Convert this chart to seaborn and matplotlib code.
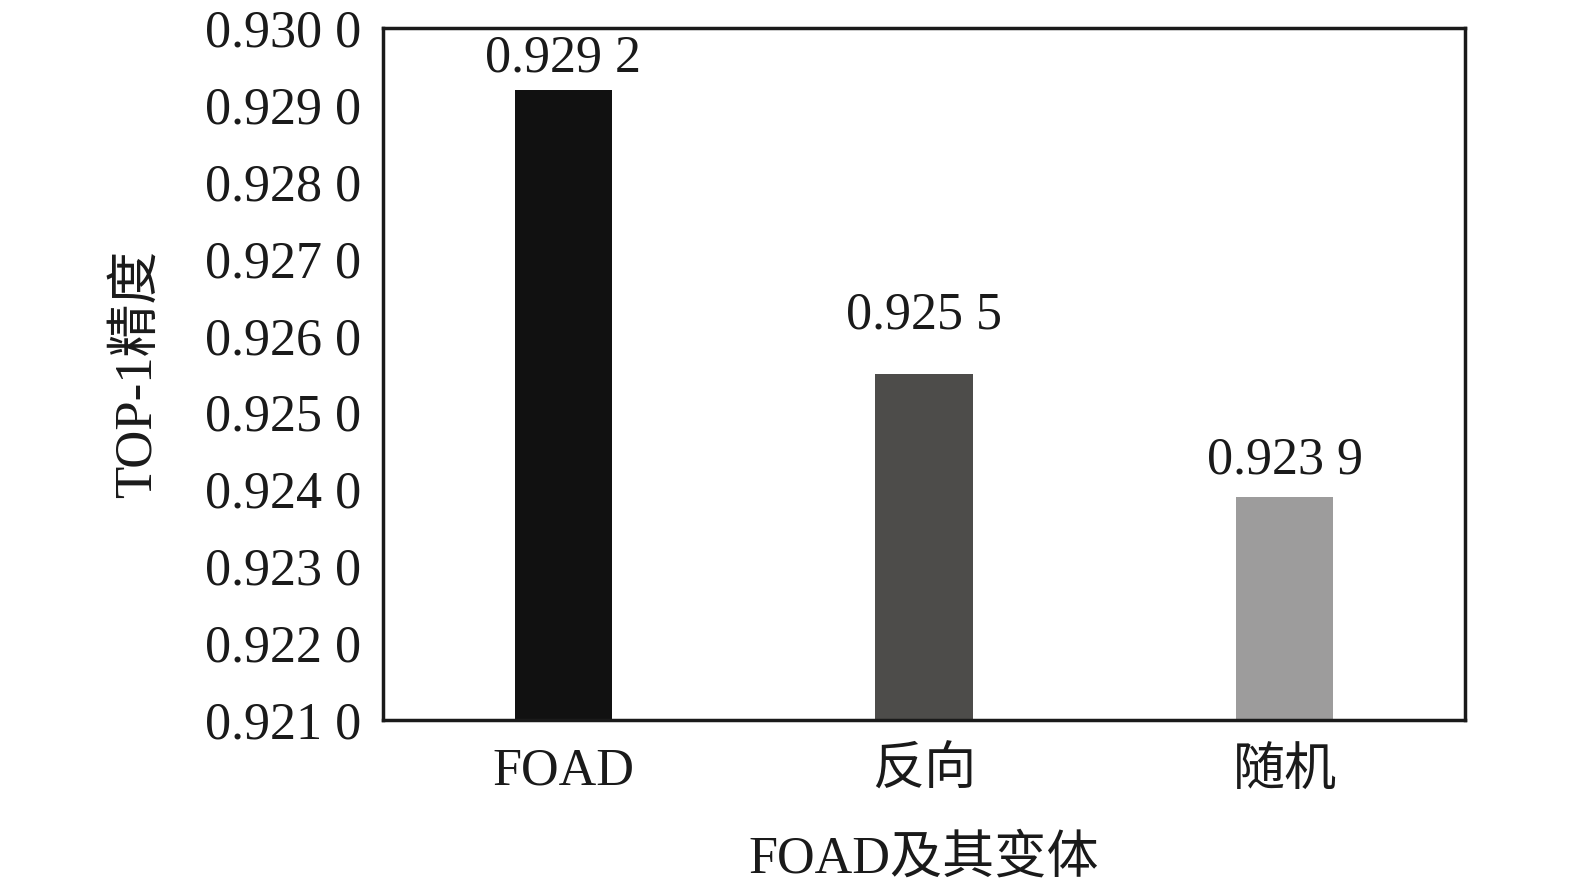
import matplotlib
matplotlib.use("Agg")
import matplotlib.pyplot as plt
import seaborn as sns
import pandas as pd
from matplotlib.ticker import FuncFormatter, MultipleLocator

categories = ["FOAD", "反向", "随机"]
values = [0.9292, 0.9255, 0.9239]
labels = ["0.929 2", "0.925 5", "0.923 9"]
colors = ["#111111", "#4d4c4a", "#9d9c9c"]
# label offsets above bar tops (points) - styling only
label_offsets = [22, 42, 26]

sns.set_theme(style="white")
plt.rcParams['font.family'] = ['Liberation Serif', 'Noto Sans CJK SC']

df = pd.DataFrame({"cat": categories, "val": values})

fig = plt.figure(figsize=(15.75, 8.88), dpi=100)
ax = fig.add_axes([383/1575, 1 - 720/888, (1465-383)/1575, (720-28)/888])
sns.barplot(data=df, x="cat", y="val", hue="cat", palette=colors, width=0.27,
            ax=ax, legend=False, saturation=1, linewidth=0)
ax.set_ylim(0.921, 0.930)
ax.set_xlim(-0.5, 2.5)
ax.yaxis.set_major_locator(MultipleLocator(0.001))

def fmt(v, pos):
    s = f"{v:.4f}"
    return s[:-1] + " " + s[-1]
ax.yaxis.set_major_formatter(FuncFormatter(fmt))

for i, (v, t, off) in enumerate(zip(values, labels, label_offsets)):
    ax.annotate(t, (i, v), xytext=(0, off), textcoords="offset points",
                ha="center", va="center", fontsize=37.5, color="#1a1a1a",
                annotation_clip=False)

ax.tick_params(axis="both", length=0, colors="#1a1a1a")
ax.tick_params(axis="y", labelsize=37.5, pad=16)
ax.tick_params(axis="x", labelsize=37.5, pad=20)
for s in ax.spines.values():
    s.set_visible(True)
    s.set_linewidth(2.5)
    s.set_color("#1a1a1a")

ax.set_xlabel("FOAD及其变体", fontsize=37.5, color="#1a1a1a", labelpad=28)
ax.set_ylabel("TOP-1精度", fontsize=38, color="#1a1a1a", labelpad=31)

fig.savefig("out.png", dpi=100, facecolor="white")
